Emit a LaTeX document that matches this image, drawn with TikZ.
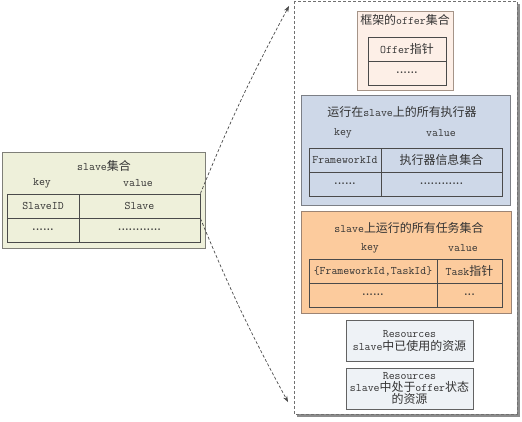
\documentclass[tikz,border=0pt]{standalone}
\usepackage{fontspec}
\newfontfamily\cjk[Scale=1.04]{Noto Sans CJK SC}
\newcommand\zh[1]{{\cjk #1}}
\newcommand\dts[1]{{\rmfamily\bfseries #1}}
\usetikzlibrary{arrows.meta}
\definecolor{txt}{HTML}{333333}
\definecolor{tline}{HTML}{4A4A4A}
\definecolor{gfill}{HTML}{EEF0DA}
\definecolor{gline}{HTML}{7F7F78}
\definecolor{pfill}{HTML}{FDEFE7}
\definecolor{pline}{HTML}{A59488}
\definecolor{bfill}{HTML}{CED8E8}
\definecolor{bline}{HTML}{7C7F86}
\definecolor{ofill}{HTML}{FCCB9D}
\definecolor{oline}{HTML}{9C8474}
\definecolor{rfill}{HTML}{EEF2F6}
\definecolor{rline}{HTML}{626262}
\definecolor{dline}{HTML}{707070}
\begin{document}
\begin{tikzpicture}[x=1pt,y=-1pt,
  every node/.style={font=\ttfamily\fontsize{11.5}{13}\selectfont, text=txt, inner sep=0pt, align=center},
  cell/.style={draw=tline, line width=0.8pt, anchor=center},
  outerbox/.style={draw=#1, line width=1pt, anchor=center},
  conn/.style={draw=tline, dashed, dash pattern=on 3pt off 2pt, line width=0.7pt, -{Stealth[length=6pt,width=4.5pt]}}]
\useasboundingbox (0,0) rectangle (522,421);
% dashed container with shadow
\fill[dline!80] (296.5,3.5) rectangle (519.5,416.5);
\draw[dline, fill=white, line width=0.9pt, dash pattern=on 3pt off 2pt] (294,1) rectangle (517,414);
% left box
\node[outerbox=gline, fill=gfill, minimum width=203pt, minimum height=96pt] (slaves) at (103.5,200) {};
\node (slt) at (104,166) {slave\zh{集合}};
\node (slk) at (42,183) {key};
\node (slv) at (138,183) {value};
\node[cell, minimum width=72pt, minimum height=24pt] (lk1) at (43,206) {SlaveID};
\node[cell, minimum width=121pt, minimum height=24pt] (lv1) at (139.5,206) {Slave};
\node[cell, minimum width=72pt, minimum height=24pt] (lk2) at (43,230) {\dts{......}};
\node[cell, minimum width=121pt, minimum height=24pt] (lv2) at (139.5,230) {\dts{............}};
% offer box
\node[outerbox=pline, fill=pfill, minimum width=96pt, minimum height=79pt] (offers) at (405,50.5) {};
\node (oft) at (405,20) {\zh{框架的}offer\zh{集合}};
\node[cell, minimum width=78pt, minimum height=24pt] (of1) at (407,49) {Offer\zh{指针}};
\node[cell, minimum width=78pt, minimum height=24pt] (of2) at (407,73) {\dts{......}};
% executors box
\node[outerbox=bline, fill=bfill, minimum width=209pt, minimum height=110pt] (execs) at (405.5,150) {};
\node (ext) at (402,112) {\zh{运行在}slave\zh{上的所有执行器}};
\node (exk) at (343,133) {key};
\node (exv) at (441,133) {value};
\node[cell, minimum width=72pt, minimum height=24pt] (ek1) at (345,160) {FrameworkId};
\node[cell, minimum width=121pt, minimum height=24pt] (ev1) at (441.5,160) {\zh{执行器信息集合}};
\node[cell, minimum width=72pt, minimum height=24pt] (ek2) at (345,184) {\dts{......}};
\node[cell, minimum width=121pt, minimum height=24pt] (ev2) at (441.5,184) {\dts{............}};
% tasks box
\node[outerbox=oline, fill=ofill, minimum width=210pt, minimum height=102pt] (tasks) at (406,262) {};
\node (tkt) at (409,228) {slave\zh{上运行的所有任务集合}};
\node (tkk) at (370,248) {key};
\node (tkv) at (463,248) {value};
\node[cell, minimum width=128pt, minimum height=24pt] (tk1) at (373,271) {\{FrameworkId,TaskId\}};
\node[cell, minimum width=65pt, minimum height=24pt] (tv1) at (469.5,271) {Task\zh{指针}};
\node[cell, minimum width=128pt, minimum height=24pt] (tk2) at (373,295) {\dts{......}};
\node[cell, minimum width=65pt, minimum height=24pt] (tv2) at (469.5,295) {\dts{...}};
% resources
\node[outerbox=rline, fill=rfill, minimum width=127pt, minimum height=41pt] (res1) at (409.5,340.5) {Resources\\slave\zh{中已使用的资源}};
\node[outerbox=rline, fill=rfill, minimum width=127pt, minimum height=41pt, font=\ttfamily\fontsize{11.5}{12}\selectfont] (res2) at (409.5,388.5) {Resources\\slave\zh{中处于}offer\zh{状态}\\\zh{的资源}};
% connectors
\coordinate (tA) at (289,6);
\coordinate (tB) at (288,402);
\draw[conn] (lv1.north east) to[bend left=3] (tA);
\draw[conn] (lv1.south east) to[bend right=3] (tB);
\end{tikzpicture}
\end{document}
